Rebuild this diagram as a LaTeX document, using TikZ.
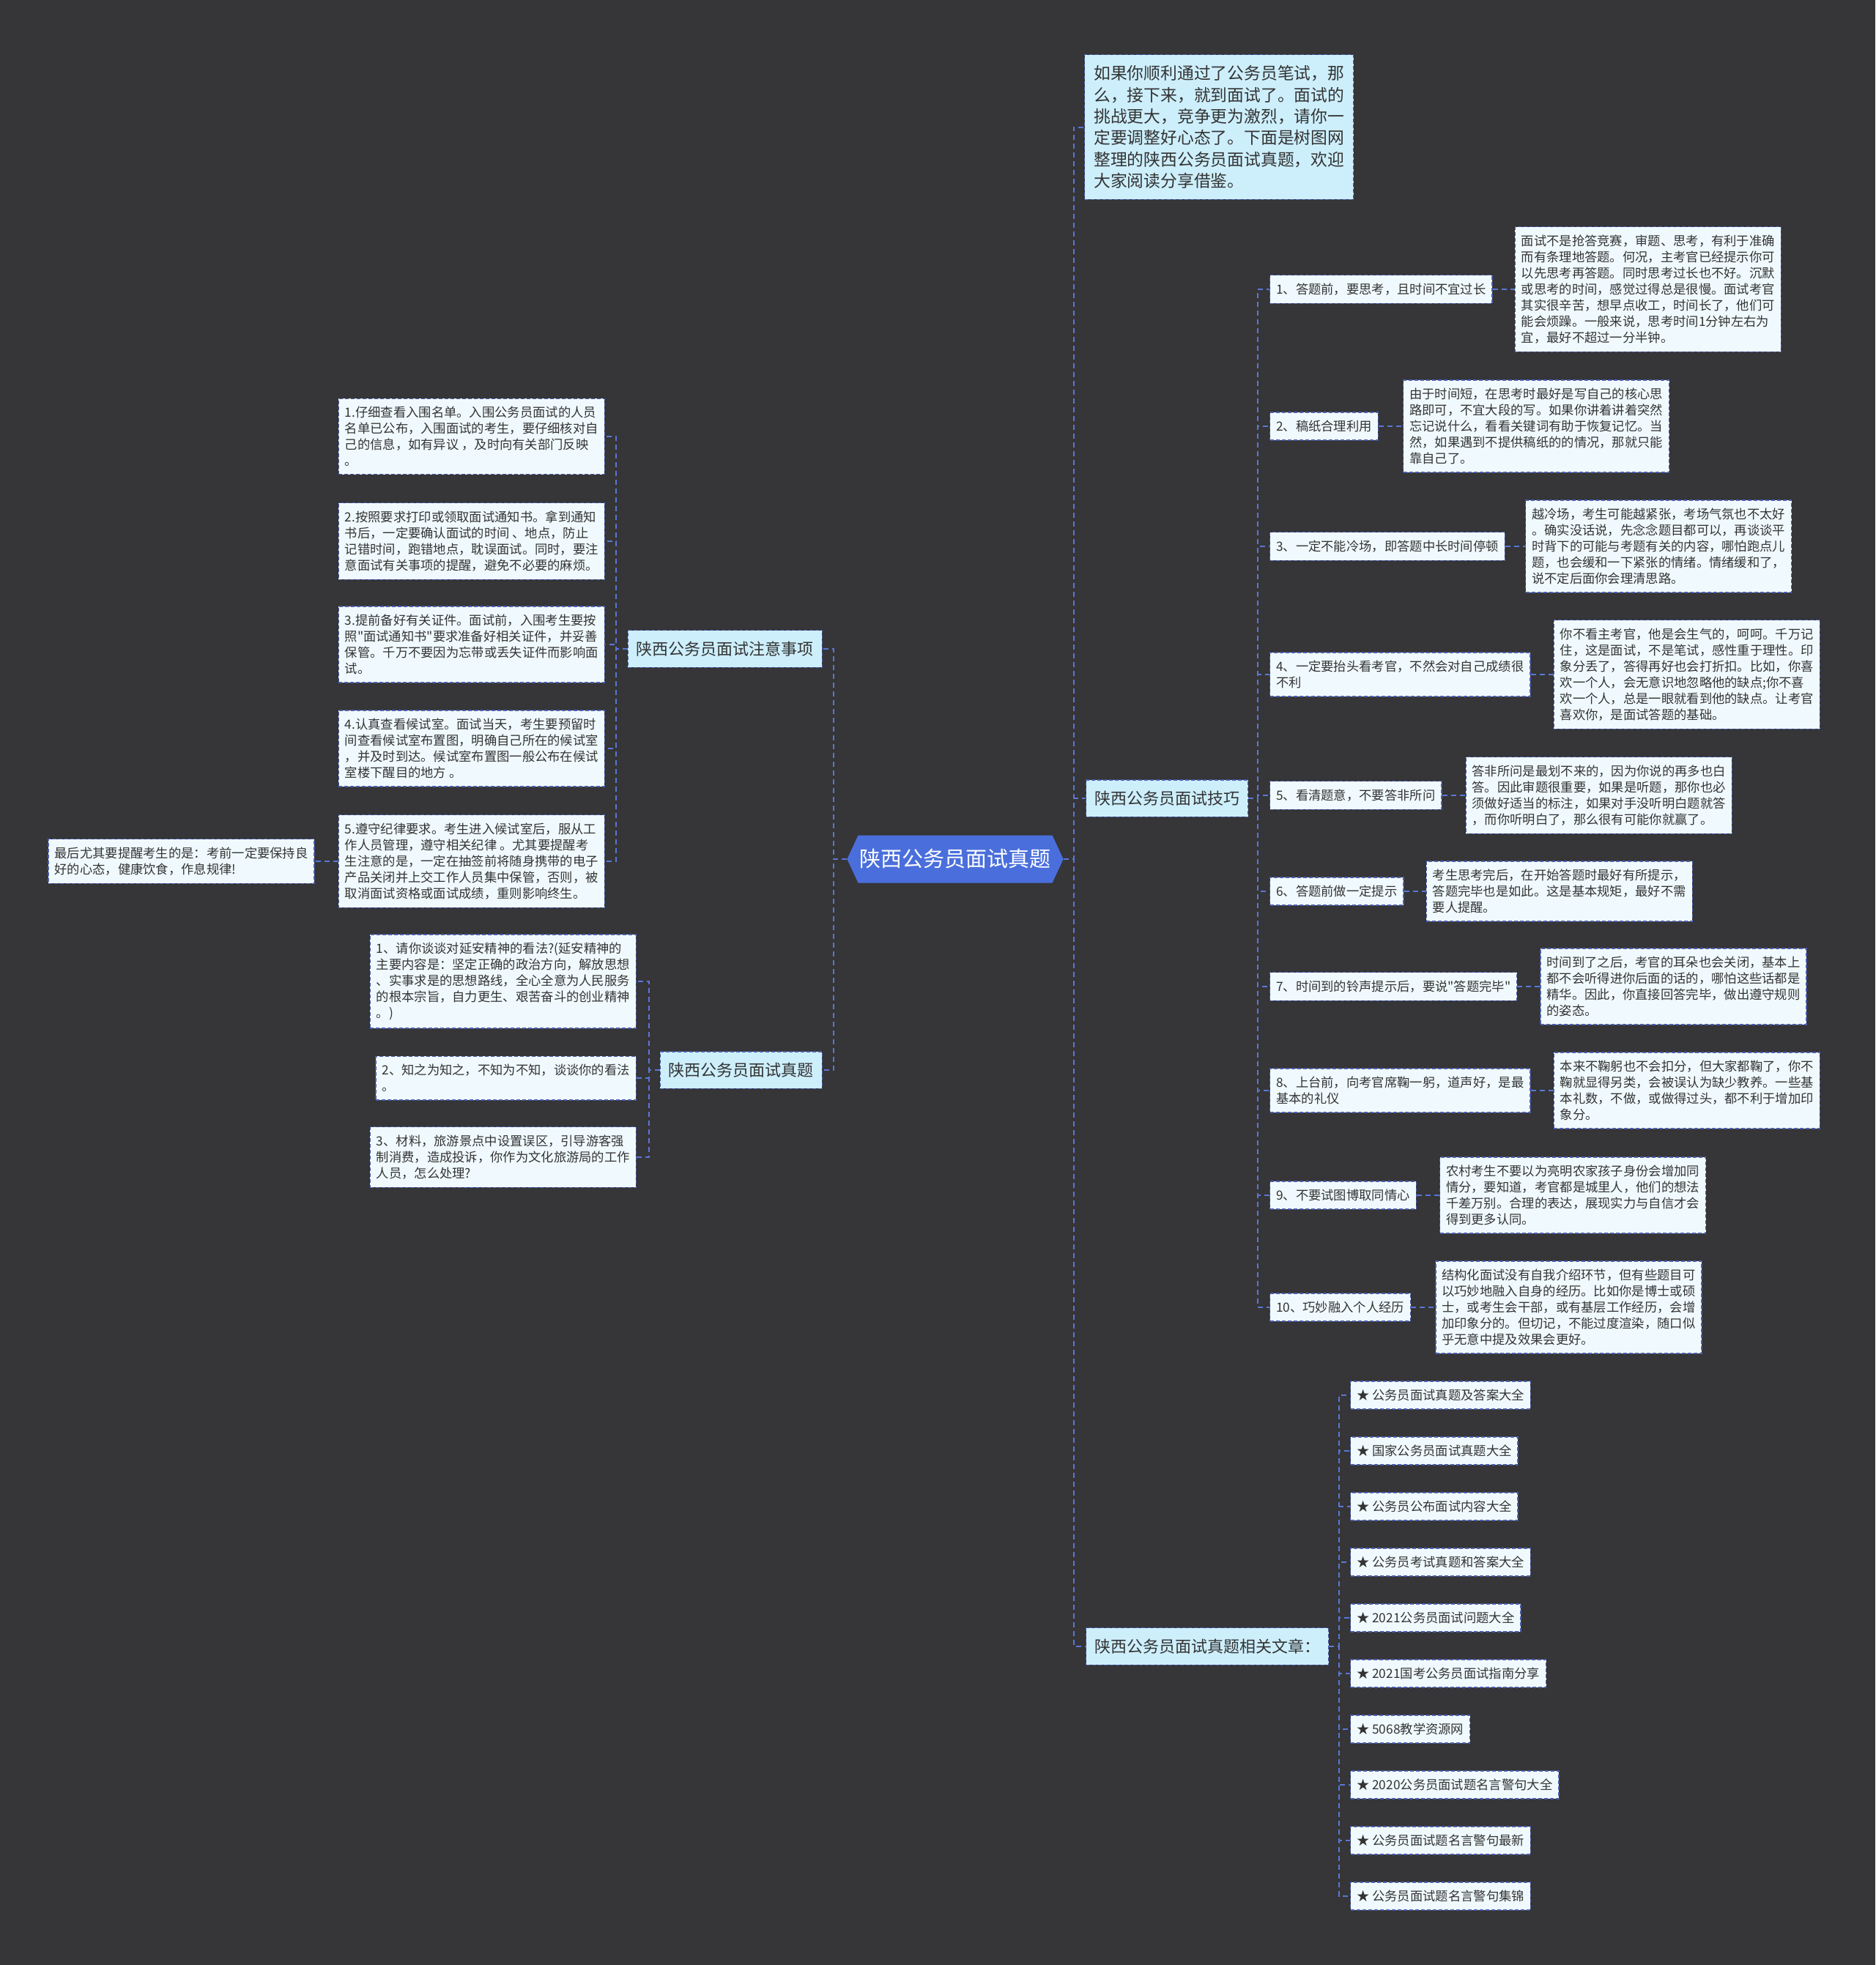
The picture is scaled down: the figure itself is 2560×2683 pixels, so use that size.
\documentclass[tikz,border=0pt]{standalone}
\usepackage{fontspec}
\setmainfont{Noto Sans CJK SC}[Ligatures=TeXOff]
\usepackage{xcolor}
\usepackage{tikz}
\usetikzlibrary{positioning,shapes.symbols}

\definecolor{bgcol}{HTML}{363537}
\definecolor{rootcol}{HTML}{4A6FDC}
\definecolor{topcol}{HTML}{CDEFFC}
\definecolor{leafcol}{HTML}{F0FAFE}
\definecolor{framecol}{HTML}{4B5EAB}
\definecolor{linkcol}{HTML}{5878D8}
\definecolor{txtcol}{HTML}{333333}

\tikzset{
  rootbox/.style={signal, signal to=east and west, signal pointer angle=130,
    fill=rootcol, text=white, font=\fontsize{29}{34}\selectfont,
    minimum height=65pt, inner xsep=2pt},
  topbox/.style={draw=framecol, dash pattern=on 5pt off 3pt, line width=1.4pt,
    fill=topcol, text=txtcol, font=\fontsize{22}{29.3}\selectfont,
    inner xsep=11.5pt, inner ysep=15pt, align=left},
  leafbox/.style={draw=framecol, dash pattern=on 5pt off 3pt, line width=1.3pt,
    fill=leafcol, text=txtcol, font=\fontsize{17.3}{22}\selectfont,
    inner xsep=8.5pt, inner ysep=11pt, align=left},
  link/.style={linkcol, line width=2pt, dash pattern=on 7pt off 5pt},
}

\begin{document}
\begin{tikzpicture}[x=1pt, y=-1pt]
  \fill[bgcol] (0,0) rectangle (2560,2683);

  % centre
  \node[rootbox] (root) at (1304,1173) {陕西公务员面试真题};

  % main branches
  \node[topbox, font=\fontsize{22.8}{29.3}\selectfont, inner xsep=12.5pt, anchor=north west] (intro) at (1480,74)
    {如果你顺利通过了公务员笔试，那\\么，接下来，就到面试了。面试的\\挑战更大，竞争更为激烈，请你一\\定要调整好心态了。下面是树图网\\整理的陕西公务员面试真题，欢迎\\大家阅读分享借鉴。};
  \node[topbox, anchor=east] (notes) at (1123,886) {陕西公务员面试注意事项};
  \node[topbox, anchor=east] (exam) at (1123,1461) {陕西公务员面试真题};
  \node[topbox, anchor=west] (tips) at (1482,1090) {陕西公务员面试技巧};
  \node[topbox, anchor=west] (links) at (1482,2248) {陕西公务员面试真题相关文章：};

  \coordinate (lj) at (1138,1173);
  \coordinate (rj) at (1466,1173);
  \draw[link] (root.west) -- (lj) |- (notes.east);
  \draw[link] (root.west) -- (lj) |- (exam.east);
  \draw[link] (root.east) -- (rj) |- (intro.west);
  \draw[link] (root.east) -- (rj) |- (tips.west);
  \draw[link] (root.east) -- (rj) |- (links.west);

  % notes
  \node[leafbox, anchor=east] (n1) at (826,596)
    {1.仔细查看入围名单。入围公务员面试的人员\\名单已公布，入围面试的考生，要仔细核对自\\己的信息，如有异议 ，及时向有关部门反映\\。};
  \node[leafbox, anchor=east] (n2) at (826,739)
    {2.按照要求打印或领取面试通知书。拿到通知\\书后，一定要确认面试的时间 、地点，防止\\记错时间，跑错地点，耽误面试。同时，要注\\意面试有关事项的提醒，避免不必要的麻烦。};
  \node[leafbox, anchor=east] (n3) at (826,880)
    {3.提前备好有关证件。面试前，入围考生要按\\照"面试通知书"要求准备好相关证件，并妥善\\保管。千万不要因为忘带或丢失证件而影响面\\试。};
  \node[leafbox, anchor=east] (n4) at (826,1022)
    {4.认真查看候试室。面试当天，考生要预留时\\间查看候试室布置图，明确自己所在的候试室\\，并及时到达。候试室布置图一般公布在候试\\室楼下醒目的地方 。};
  \node[leafbox, anchor=east] (n5) at (826,1176)
    {5.遵守纪律要求。考生进入候试室后，服从工\\作人员管理，遵守相关纪律 。尤其要提醒考\\生注意的是，一定在抽签前将随身携带的电子\\产品关闭并上交工作人员集中保管，否则，被\\取消面试资格或面试成绩，重则影响终生。};
  \node[leafbox, left=32pt of n5] (last)
    {最后尤其要提醒考生的是：考前一定要保持良\\好的心态，健康饮食，作息规律!};

  \coordinate (nj) at (841,886);
  \draw[link] (notes.west) -- (nj) |- (n1.east);
  \draw[link] (notes.west) -- (nj) |- (n2.east);
  \draw[link] (notes.west) -- (nj) |- (n3.east);
  \draw[link] (notes.west) -- (nj) |- (n4.east);
  \draw[link] (notes.west) -- (nj) |- (n5.east);
  \draw[link] (n5.west) -- (last.east);

  % questions
  \node[leafbox, anchor=east] (q1) at (869,1340)
    {1、请你谈谈对延安精神的看法?(延安精神的\\主要内容是：坚定正确的政治方向，解放思想\\、实事求是的思想路线，全心全意为人民服务\\的根本宗旨，自力更生、艰苦奋斗的创业精神\\。)};
  \node[leafbox, anchor=east] (q2) at (869,1472)
    {2、知之为知之，不知为不知，谈谈你的看法\\。};
  \node[leafbox, anchor=east] (q3) at (869,1580)
    {3、材料，旅游景点中设置误区，引导游客强\\制消费，造成投诉，你作为文化旅游局的工作\\人员，怎么处理?};

  \coordinate (qj) at (886,1461);
  \draw[link] (exam.west) -- (qj) |- (q1.east);
  \draw[link] (exam.west) -- (qj) |- (q2.east);
  \draw[link] (exam.west) -- (qj) |- (q3.east);

  % tips
  \node[leafbox, anchor=west] (t1) at (1733,395) {1、答题前，要思考，且时间不宜过长};
  \node[leafbox, right=30pt of t1] (d1)
    {面试不是抢答竞赛，审题、思考，有利于准确\\而有条理地答题。何况，主考官已经提示你可\\以先思考再答题。同时思考过长也不好。沉默\\或思考的时间，感觉过得总是很慢。面试考官\\其实很辛苦，想早点收工，时间长了，他们可\\能会烦躁。一般来说，思考时间1分钟左右为\\宜，最好不超过一分半钟。};
  \node[leafbox, anchor=west] (t2) at (1733,582) {2、稿纸合理利用};
  \node[leafbox, right=33pt of t2] (d2)
    {由于时间短，在思考时最好是写自己的核心思\\路即可，不宜大段的写。如果你讲着讲着突然\\忘记说什么，看看关键词有助于恢复记忆。当\\然，如果遇到不提供稿纸的的情况，那就只能\\靠自己了。};
  \node[leafbox, anchor=west] (t3) at (1733,746) {3、一定不能冷场，即答题中长时间停顿};
  \node[leafbox, right=27pt of t3] (d3)
    {越冷场，考生可能越紧张，考场气氛也不太好\\。确实没话说，先念念题目都可以，再谈谈平\\时背下的可能与考题有关的内容，哪怕跑点儿\\题，也会缓和一下紧张的情绪。情绪缓和了，\\说不定后面你会理清思路。};
  \node[leafbox, anchor=west] (t4) at (1733,921) {4、一定要抬头看考官，不然会对自己成绩很\\不利};
  \node[leafbox, right=31pt of t4] (d4)
    {你不看主考官，他是会生气的，呵呵。千万记\\住，这是面试，不是笔试，感性重于理性。印\\象分丢了，答得再好也会打折扣。比如，你喜\\欢一个人，会无意识地忽略他的缺点;你不喜\\欢一个人，总是一眼就看到他的缺点。让考官\\喜欢你，是面试答题的基础。};
  \node[leafbox, anchor=west] (t5) at (1733,1086) {5、看清题意，不要答非所问};
  \node[leafbox, right=32pt of t5] (d5)
    {答非所问是最划不来的，因为你说的再多也白\\答。因此审题很重要，如果是听题，那你也必\\须做好适当的标注，如果对手没听明白题就答\\，而你听明白了，那么很有可能你就赢了。};
  \node[leafbox, anchor=west] (t6) at (1733,1217) {6、答题前做一定提示};
  \node[leafbox, right=30pt of t6] (d6)
    {考生思考完后，在开始答题时最好有所提示，\\答题完毕也是如此。这是基本规矩，最好不需\\要人提醒。};
  \node[leafbox, anchor=west] (t7) at (1733,1347) {7、时间到的铃声提示后，要说"答题完毕"};
  \node[leafbox, right=31pt of t7] (d7)
    {时间到了之后，考官的耳朵也会关闭，基本上\\都不会听得进你后面的话的，哪怕这些话都是\\精华。因此，你直接回答完毕，做出遵守规则\\的姿态。};
  \node[leafbox, anchor=west] (t8) at (1733,1489) {8、上台前，向考官席鞠一躬，道声好，是最\\基本的礼仪};
  \node[leafbox, right=31pt of t8] (d8)
    {本来不鞠躬也不会扣分，但大家都鞠了，你不\\鞠就显得另类，会被误认为缺少教养。一些基\\本礼数，不做，或做得过头，都不利于增加印\\象分。};
  \node[leafbox, anchor=west] (t9) at (1733,1632) {9、不要试图博取同情心};
  \node[leafbox, right=31pt of t9] (d9)
    {农村考生不要以为亮明农家孩子身份会增加同\\情分，要知道，考官都是城里人，他们的想法\\千差万别。合理的表达，展现实力与自信才会\\得到更多认同。};
  \node[leafbox, anchor=west] (t10) at (1733,1785) {10、巧妙融入个人经历};
  \node[leafbox, right=33pt of t10] (d10)
    {结构化面试没有自我介绍环节，但有些题目可\\以巧妙地融入自身的经历。比如你是博士或硕\\士，或考生会干部，或有基层工作经历，会增\\加印象分的。但切记，不能过度渲染，随口似\\乎无意中提及效果会更好。};

  \coordinate (tj) at (1717,1090);
  \draw[link] (tips.east) -- (tj) |- (t1.west);
  \draw[link] (tips.east) -- (tj) |- (t2.west);
  \draw[link] (tips.east) -- (tj) |- (t3.west);
  \draw[link] (tips.east) -- (tj) |- (t4.west);
  \draw[link] (tips.east) -- (tj) |- (t5.west);
  \draw[link] (tips.east) -- (tj) |- (t6.west);
  \draw[link] (tips.east) -- (tj) |- (t7.west);
  \draw[link] (tips.east) -- (tj) |- (t8.west);
  \draw[link] (tips.east) -- (tj) |- (t9.west);
  \draw[link] (tips.east) -- (tj) |- (t10.west);
  \draw[link] (t1.east) -- (d1.west);
  \draw[link] (t2.east) -- (d2.west);
  \draw[link] (t3.east) -- (d3.west);
  \draw[link] (t4.east) -- (d4.west);
  \draw[link] (t5.east) -- (d5.west);
  \draw[link] (t6.east) -- (d6.west);
  \draw[link] (t7.east) -- (d7.west);
  \draw[link] (t8.east) -- (d8.west);
  \draw[link] (t9.east) -- (d9.west);
  \draw[link] (t10.east) -- (d10.west);

  % related articles
  \node[leafbox, anchor=west] (r1) at (1843,1905) {★ 公务员面试真题及答案大全};
  \node[leafbox, anchor=west] (r2) at (1843,1981) {★ 国家公务员面试真题大全};
  \node[leafbox, anchor=west] (r3) at (1843,2057) {★ 公务员公布面试内容大全};
  \node[leafbox, anchor=west] (r4) at (1843,2133) {★ 公务员考试真题和答案大全};
  \node[leafbox, anchor=west] (r5) at (1843,2209) {★ 2021公务员面试问题大全};
  \node[leafbox, anchor=west] (r6) at (1843,2285) {★ 2021国考公务员面试指南分享};
  \node[leafbox, anchor=west] (r7) at (1843,2361) {★ 5068教学资源网};
  \node[leafbox, anchor=west] (r8) at (1843,2437) {★ 2020公务员面试题名言警句大全};
  \node[leafbox, anchor=west] (r9) at (1843,2513) {★ 公务员面试题名言警句最新};
  \node[leafbox, anchor=west] (r10) at (1843,2589) {★ 公务员面试题名言警句集锦};

  \coordinate (kj) at (1828,2248);
  \draw[link] (links.east) -- (kj) |- (r1.west);
  \draw[link] (links.east) -- (kj) |- (r2.west);
  \draw[link] (links.east) -- (kj) |- (r3.west);
  \draw[link] (links.east) -- (kj) |- (r4.west);
  \draw[link] (links.east) -- (kj) |- (r5.west);
  \draw[link] (links.east) -- (kj) |- (r6.west);
  \draw[link] (links.east) -- (kj) |- (r7.west);
  \draw[link] (links.east) -- (kj) |- (r8.west);
  \draw[link] (links.east) -- (kj) |- (r9.west);
  \draw[link] (links.east) -- (kj) |- (r10.west);
\end{tikzpicture}
\end{document}
